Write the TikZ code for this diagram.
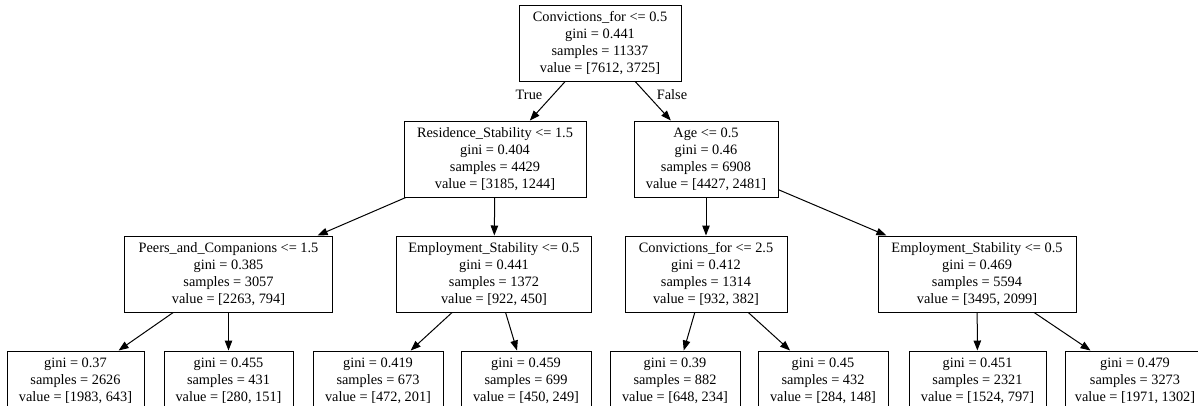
\documentclass[tikz,border=0pt]{standalone}
\usepackage{fontspec}
\setmainfont{Liberation Serif}
\usetikzlibrary{arrows.meta}
\tikzset{
  tbox/.style={draw, line width=0.75pt, rectangle, align=center, inner xsep=0pt, inner ysep=0pt,
    font=\fontsize{10.75pt}{12.75pt}\selectfont},
  inner4/.style={tbox, minimum height=57pt, minimum width=#1*0.75pt},
  leaf/.style={tbox, minimum height=44.25pt, minimum width=#1*0.75pt},
  edge/.style={line width=0.75pt, -{Triangle[length=7.5pt,width=5.6pt]}},
  elabel/.style={font=\fontsize{10.75pt}{12.75pt}\selectfont, inner sep=0pt}
}
\begin{document}
\begin{tikzpicture}[x=0.75pt, y=-0.75pt]
\useasboundingbox (0,0) rectangle (1198,405);
\fill[white] (0,0) rectangle (1198,405);
\clip (0,0) rectangle (1198,405);

% level 0
\node[inner4=162] (root) at (600,43) {Convictions\_for <= 0.5\\gini = 0.441\\samples = 11337\\value = [7612, 3725]};

% level 1
\node[inner4=182] (res) at (495,159) {Residence\_Stability <= 1.5\\gini = 0.404\\samples = 4429\\value = [3185, 1244]};
\node[inner4=144] (age) at (706,159) {Age <= 0.5\\gini = 0.46\\samples = 6908\\value = [4427, 2481]};

% level 2
\node[inner4=208] (peers) at (228.5,274) {Peers\_and\_Companions <= 1.5\\gini = 0.385\\samples = 3057\\value = [2263, 794]};
\node[inner4=195] (emp1) at (494,274) {Employment\_Stability <= 0.5\\gini = 0.441\\samples = 1372\\value = [922, 450]};
\node[inner4=162] (conv2) at (706,274) {Convictions\_for <= 2.5\\gini = 0.412\\samples = 1314\\value = [932, 382]};
\node[inner4=198] (emp2) at (977,274) {Employment\_Stability <= 0.5\\gini = 0.469\\samples = 5594\\value = [3495, 2099]};

% level 3
\node[leaf=137] (b1) at (75.5,380.5) {gini = 0.37\\samples = 2626\\value = [1983, 643]};
\node[leaf=129] (b2) at (228.5,380.5) {gini = 0.455\\samples = 431\\value = [280, 151]};
\node[leaf=130] (b3) at (378,380.5) {gini = 0.419\\samples = 673\\value = [472, 201]};
\node[leaf=130] (b4) at (526,380.5) {gini = 0.459\\samples = 699\\value = [450, 249]};
\node[leaf=130] (b5) at (675,380.5) {gini = 0.39\\samples = 882\\value = [648, 234]};
\node[leaf=130] (b6) at (823,380.5) {gini = 0.45\\samples = 432\\value = [284, 148]};
\node[leaf=137] (b7) at (977.5,380.5) {gini = 0.451\\samples = 2321\\value = [1524, 797]};
\node[leaf=140] (b8) at (1135,380.5) {gini = 0.479\\samples = 3273\\value = [1971, 1302]};

% edges
\draw[edge] (root) -- (res);
\draw[edge] (root) -- (age);
\draw[edge] (res) -- (peers);
\draw[edge] (res) -- (emp1);
\draw[edge] (age) -- (conv2);
\draw[edge] (age) -- (emp2);
\draw[edge] (peers) -- (b1);
\draw[edge] (peers) -- (b2);
\draw[edge] (emp1) -- (b3);
\draw[edge] (emp1) -- (b4);
\draw[edge] (conv2) -- (b5);
\draw[edge] (conv2) -- (b6);
\draw[edge] (emp2) -- (b7);
\draw[edge] (emp2) -- (b8);

% edge labels
\node[elabel] (ltrue) at (529,95) {True};
\node[elabel] (lfalse) at (672,95) {False};
\end{tikzpicture}
\end{document}
